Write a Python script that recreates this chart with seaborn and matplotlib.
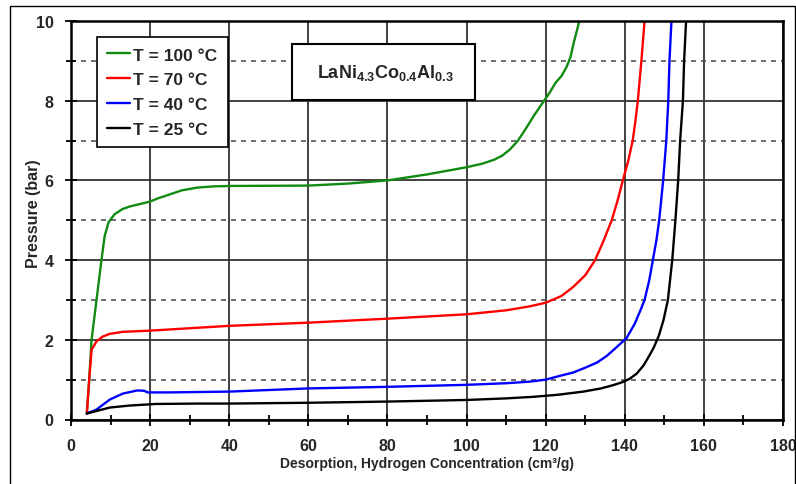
import numpy as np
import pandas as pd
import matplotlib
matplotlib.use("Agg")
import matplotlib.pyplot as plt
from matplotlib import font_manager
from matplotlib.patches import Rectangle
from matplotlib.ticker import MultipleLocator
import seaborn as sns

# ---------------- data ----------------
x_100 = [4, 4.6, 5.2, 6.45, 7.7, 8.5, 9.5, 11, 13, 15, 18, 20, 22, 25, 28, 32, 36, 40, 60, 70,
         75, 80, 90, 100, 104, 107, 109, 111, 113, 115, 117, 119.6, 121, 122.5, 124, 125.3,
         126.3, 127.2, 128, 128.5]
p_100 = [0.15, 1.0, 2.0, 3.0, 4.0, 4.6, 4.95, 5.15, 5.28, 5.35, 5.42, 5.47, 5.55, 5.65, 5.75,
         5.82, 5.85, 5.86, 5.87, 5.92, 5.96, 6.0, 6.15, 6.33, 6.42, 6.52, 6.62, 6.78, 7.0, 7.3,
         7.62, 8.0, 8.2, 8.45, 8.62, 8.85, 9.1, 9.5, 9.8, 10.0]

x_70 = [4, 4.6, 5.2, 6.45, 8, 9.8, 13.1, 20, 40, 60, 80, 100, 110, 116, 120, 124, 127, 130,
        132.5, 134.7, 136.7, 138.2, 139.5, 140.9, 142.0, 142.7, 143.3, 144.2, 145.0]
p_70 = [0.15, 1.0, 1.75, 1.96, 2.08, 2.15, 2.2, 2.23, 2.35, 2.43, 2.53, 2.64, 2.74, 2.84, 2.93,
        3.1, 3.33, 3.62, 4.0, 4.5, 5.0, 5.5, 6.0, 6.5, 7.0, 7.5, 8.0, 9.0, 10.0]

x_40 = [4, 6.45, 9.8, 13.1, 16.8, 18.5, 19.4, 25, 40, 60, 80, 100, 110, 116, 120, 123, 127,
        130, 133, 135.5, 138, 140.5, 142.5, 144, 145, 146.2, 147.1, 148, 148.7, 149.7, 150.5,
        151, 151.3, 151.8]
p_40 = [0.15, 0.25, 0.5, 0.65, 0.73, 0.72, 0.68, 0.68, 0.7, 0.78, 0.82, 0.87, 0.91, 0.95, 1.0,
        1.08, 1.18, 1.3, 1.43, 1.6, 1.82, 2.05, 2.4, 2.75, 3.0, 3.5, 4.0, 4.5, 5.0, 6.0, 7.0,
        8.0, 9.0, 10.0]

x_25 = [4, 9.8, 14.8, 21.5, 32.4, 40, 60, 80, 100, 110, 117, 123, 129.5, 134, 137, 139.5,
        141.2, 143, 144.7, 145.9, 147.3, 148.6, 149.8, 150.9, 152, 152.8, 153.5, 154, 154.7,
        155, 155.5]
p_25 = [0.15, 0.3, 0.35, 0.39, 0.4, 0.4, 0.42, 0.45, 0.49, 0.53, 0.57, 0.62, 0.7, 0.78, 0.86,
        0.94, 1.02, 1.15, 1.35, 1.55, 1.8, 2.1, 2.5, 3.0, 4.0, 5.0, 6.0, 7.0, 8.0, 9.0, 10.0]

labels = ["T = 100 °C", "T = 70 °C", "T = 40 °C", "T = 25 °C"]
colors = ["#108a10", "#ff0000", "#0000ff", "#000000"]
x_ticks = [0, 20, 40, 60, 80, 100, 120, 140, 160, 180]
y_ticks = [0, 2, 4, 6, 8, 10]
title_text = r"$\mathbf{LaNi_{4.3}Co_{0.4}Al_{0.3}}$"
xlabel = "Desorption, Hydrogen Concentration (cm³/g)"
ylabel = "Pressure (bar)"

frames = []
for lab, xs, ps in zip(labels, [x_100, x_70, x_40, x_25], [p_100, p_70, p_40, p_25]):
    frames.append(pd.DataFrame({"conc": xs, "p": ps, "T": lab}))
df = pd.concat(frames, ignore_index=True)

# ---------------- style ----------------
sns.set_style("white")
avail = {f.name for f in font_manager.fontManager.ttflist}
narrow = "Liberation Sans Narrow" if "Liberation Sans Narrow" in avail else "Liberation Sans"
plt.rcParams["font.family"] = ["Liberation Sans", "DejaVu Sans"]
plt.rcParams["mathtext.fontset"] = "custom"
plt.rcParams["mathtext.rm"] = "Liberation Sans"
plt.rcParams["mathtext.bf"] = "Liberation Sans:bold"

fig = plt.figure(figsize=(7.96, 4.85), dpi=100)
ax = fig.add_axes([71 / 796, 1 - 420.5 / 485, (783 - 71) / 796, (420.5 - 22) / 485])

sns.lineplot(data=df, x="conc", y="p", hue="T", hue_order=labels, palette=colors,
             estimator=None, sort=False, linewidth=1.7, ax=ax, legend=False, zorder=3)

ax.set_xlim(0, 180)
ax.set_ylim(0, 10)
ax.xaxis.set_minor_locator(MultipleLocator(10))
ax.yaxis.set_minor_locator(MultipleLocator(1))
ax.set_xticks(x_ticks)
ax.set_yticks(y_ticks)
ax.set_xticklabels([str(v) for v in x_ticks])
ax.set_yticklabels([str(v) for v in y_ticks])

ax.grid(which="major", axis="both", color="#333333", linewidth=1.3, linestyle="-", zorder=1)
ax.grid(which="minor", axis="y", color="#555555", linewidth=1.2, linestyle=(0, (3, 3)), zorder=1)
ax.set_axisbelow(True)

for s in ax.spines.values():
    s.set_linewidth(1.8)
    s.set_color("black")
    s.set_zorder(4)

ax.tick_params(which="both", direction="inout", color="black", width=1.3,
               bottom=True, left=True)
ax.tick_params(which="major", length=9)
ax.tick_params(which="minor", length=7)
ax.tick_params(axis="x", which="major", pad=9)
ax.tick_params(axis="y", which="major", pad=8)
for t in ax.get_xticklabels() + ax.get_yticklabels():
    t.set_fontfamily(narrow)
    t.set_fontweight("bold")
    t.set_fontsize(11.5)

ax.set_xlabel(xlabel, fontfamily=narrow, fontweight="bold", fontsize=10, labelpad=2)
ax.set_ylabel(ylabel, fontweight="bold", fontsize=11.5)
ax.yaxis.set_label_coords(-0.042, 0.52)

# legend
handles = [plt.Line2D([], [], color=c, linewidth=1.7) for c in colors]
leg = ax.legend(handles, labels, loc="upper left", bbox_to_anchor=(0.036, 0.96),
                borderaxespad=0, frameon=True, fancybox=False, framealpha=1,
                edgecolor="black", handlelength=1.3, handletextpad=0.2,
                labelspacing=0.55, borderpad=0.6,
                prop={"weight": "bold", "size": 12.5})
leg.get_frame().set_linewidth(1.2)
leg.set_zorder(6)

# composition box
box = Rectangle((0.31, 0.8018), 0.2577, 0.1405, transform=ax.transAxes,
                facecolor="white", edgecolor="black", linewidth=1.5, zorder=6)
ax.add_patch(box)
ax.text(0.441, 0.872, title_text, transform=ax.transAxes, ha="center", va="center",
        fontsize=13, zorder=7)

# outer figure frame
fig.patches.append(Rectangle((10 / 796, -0.05), (795 - 10) / 796, 1.05 - 7 / 485,
                             transform=fig.transFigure, fill=False, edgecolor="black",
                             linewidth=1.0))

fig.savefig("out.png", dpi=100)
